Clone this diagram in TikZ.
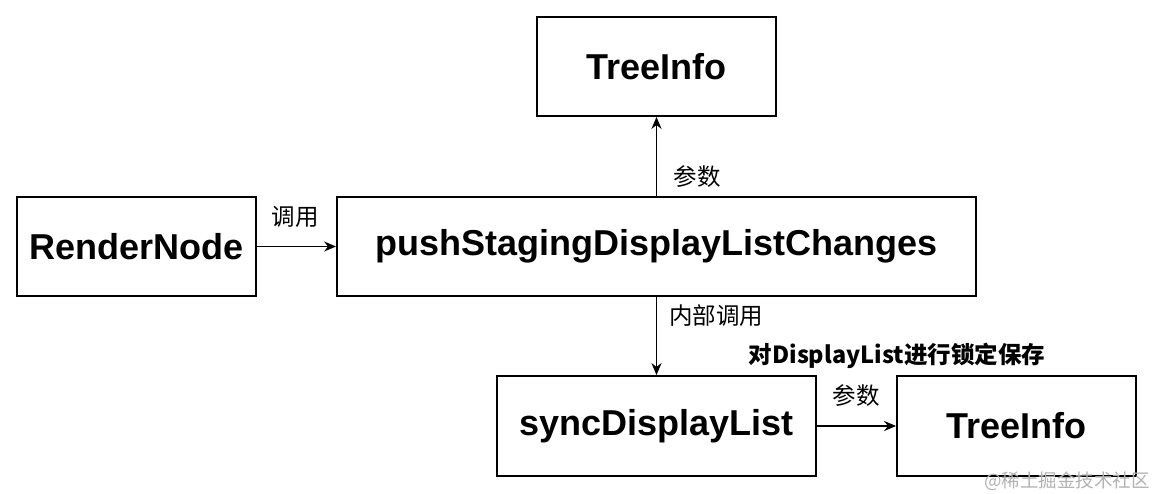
\documentclass[tikz,border=0pt]{standalone}
\usepackage{fontspec}
\setmainfont{Liberation Sans}
\newfontfamily\cjk{Noto Sans CJK SC}
\usetikzlibrary{arrows.meta}
\begin{document}
\begin{tikzpicture}[x=1pt,y=-1pt,
  box/.style={draw,line width=1.8pt,inner sep=0pt,font=\fontsize{36}{40}\selectfont\bfseries},
  lbl/.style={font=\cjk\fontsize{23.5}{26}\selectfont},
  arr/.style={-{Stealth[length=12pt,width=10pt]},line width=1.8pt}]
\useasboundingbox (0,0) rectangle (1154,494);
\node[box,minimum width=239pt,minimum height=99pt] (t1) at (656.5,66.5) {TreeInfo};
\node[box,minimum width=239pt,minimum height=99pt] (rn) at (136.5,246.5) {RenderNode};
\node[box,minimum width=639pt,minimum height=99pt] (ps) at (656.5,246.5) {pushStagingDisplayListChanges};
\node[box,minimum width=319pt,minimum height=100pt] (sd) at (656.5,426) {syncDisplayList};
\node[box,minimum width=239pt,minimum height=100pt] (t2) at (1016.5,426) {TreeInfo};
\draw[arr] (rn) -- (ps);
\draw[arr] (ps) -- (t1);
\draw[arr] (ps) -- (sd);
\draw[arr] (sd) -- (t2);
\node[lbl] (l1) at (295,217) {调用};
\node[lbl] (l2) at (697,177) {参数};
\node[lbl] (l3) at (716,316) {内部调用};
\node[lbl,font=\cjk\bfseries\fontsize{23.5}{26}\selectfont] (l4) at (897,356) {对DisplayList进行锁定保存};
\node[lbl] (l5) at (856,396) {参数};
\node[font=\cjk\fontsize{18.5}{20}\selectfont,text=gray!60] (wm) at (1067,481) {@稀土掘金技术社区};
\end{tikzpicture}
\end{document}
